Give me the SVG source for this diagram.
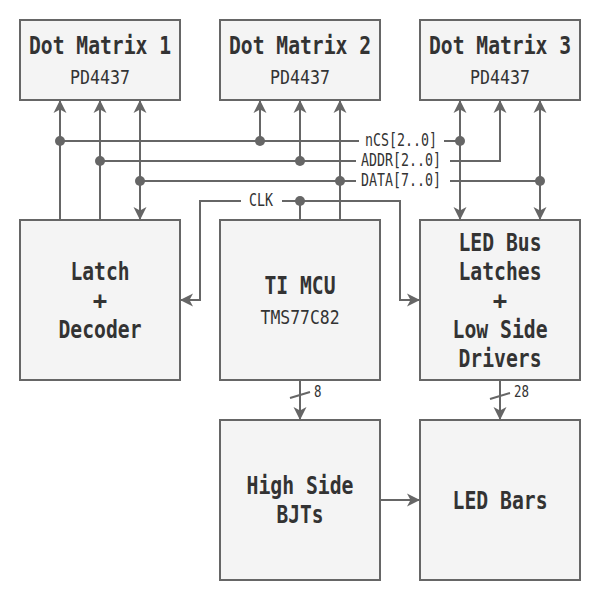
<svg xmlns="http://www.w3.org/2000/svg" width="602" height="604" viewBox="0 0 602 604">
<style>
.box{fill:#f4f4f4;stroke:#666;stroke-width:2}
.t{font-family:"DejaVu Sans Mono","Liberation Mono",monospace;font-weight:bold;font-size:24px;fill:#333;text-anchor:middle}
.s{font-family:"DejaVu Sans Mono","Liberation Mono",monospace;font-size:20px;fill:#333;text-anchor:middle}
.l{font-family:"DejaVu Sans Mono","Liberation Mono",monospace;font-size:18px;fill:#333;text-anchor:middle}
.w{font-family:"DejaVu Sans Mono","Liberation Mono",monospace;font-size:15px;fill:#333}
.c path{fill:none;stroke:#666;stroke-width:2}
.c circle{fill:#666}
.a{marker-end:url(#arr)}
.b{marker-start:url(#arr);marker-end:url(#arr)}
</style>
<defs>
<marker id="arr" viewBox="-14 -7 14 14" refX="0" refY="0" markerWidth="14" markerHeight="14" markerUnits="userSpaceOnUse" orient="auto-start-reverse">
<path d="M-13,-6.5 L0,0 L-13,6.5 L-9.5,0 Z" fill="#666"/>
</marker>
</defs>
<rect width="602" height="604" fill="#fff"/>

<g class="c" id="connectors">
<path class="a" d="M60,220 V100"/>
<path class="a" d="M100,220 V100"/>
<path class="b" d="M140,100 V220"/>
<path d="M60,141 H359 M444,141 H460"/>
<path class="a" d="M260,141 V100"/>
<path d="M100,161 H356"/>
<path class="a" d="M450,161 H500 V100"/>
<path class="a" d="M300,161 V100"/>
<path d="M140,181 H356 M450,181 H540"/>
<path class="a" d="M340,220 V100"/>
<path class="b" d="M460,100 V220"/>
<path class="b" d="M540,100 V220"/>
<path d="M300,220 V201"/>
<path class="a" d="M282,201 H400 V300 H420"/>
<path class="a" d="M241,201 H200 V300 H180"/>
<path class="a" d="M300,380 V420"/>
<path d="M290,398 L310,392"/>
<path class="a" d="M500,380 V420"/>
<path d="M490,399 L510,393"/>
<path class="a" d="M380,500 H420"/>
<circle cx="60" cy="141" r="5"/>
<circle cx="260" cy="141" r="5"/>
<circle cx="460" cy="141" r="5"/>
<circle cx="100" cy="161" r="5"/>
<circle cx="300" cy="161" r="5"/>
<circle cx="140" cy="181" r="5"/>
<circle cx="340" cy="181" r="5"/>
<circle cx="540" cy="181" r="5"/>
<circle cx="300" cy="201" r="5"/>
<text class="l" x="401" y="146" textLength="72" lengthAdjust="spacingAndGlyphs">nCS[2..0]</text>
<text class="l" x="401" y="166" textLength="80" lengthAdjust="spacingAndGlyphs">ADDR[2..0]</text>
<text class="l" x="401" y="186" textLength="80" lengthAdjust="spacingAndGlyphs">DATA[7..0]</text>
<text class="l" x="261" y="206" textLength="24" lengthAdjust="spacingAndGlyphs">CLK</text>
<text class="w" x="314" y="397" textLength="7.5" lengthAdjust="spacingAndGlyphs">8</text>
<text class="w" x="514" y="397" textLength="15" lengthAdjust="spacingAndGlyphs">28</text>
</g>

<g id="dm1">
<rect class="box" x="20" y="20" width="160" height="80"/>
<text class="t" x="100" y="54" textLength="142" lengthAdjust="spacingAndGlyphs">Dot Matrix 1</text>
<text class="s" x="100" y="84" textLength="60" lengthAdjust="spacingAndGlyphs">PD4437</text>
</g>
<g id="dm2">
<rect class="box" x="220" y="20" width="160" height="80"/>
<text class="t" x="300" y="54" textLength="142" lengthAdjust="spacingAndGlyphs">Dot Matrix 2</text>
<text class="s" x="300" y="84" textLength="60" lengthAdjust="spacingAndGlyphs">PD4437</text>
</g>
<g id="dm3">
<rect class="box" x="420" y="20" width="160" height="80"/>
<text class="t" x="500" y="54" textLength="142" lengthAdjust="spacingAndGlyphs">Dot Matrix 3</text>
<text class="s" x="500" y="84" textLength="60" lengthAdjust="spacingAndGlyphs">PD4437</text>
</g>
<g id="latch">
<rect class="box" x="20" y="220" width="160" height="160"/>
<text class="t" x="100" y="279.5" textLength="59" lengthAdjust="spacingAndGlyphs">Latch</text>
<text class="t" x="100" y="308.5">+</text>
<text class="t" x="100" y="337.5" textLength="83" lengthAdjust="spacingAndGlyphs">Decoder</text>
</g>
<g id="mcu">
<rect class="box" x="220" y="220" width="160" height="160"/>
<text class="t" x="300" y="294" textLength="71" lengthAdjust="spacingAndGlyphs">TI MCU</text>
<text class="s" x="300" y="324" textLength="79" lengthAdjust="spacingAndGlyphs">TMS77C82</text>
</g>
<g id="ledlatch">
<rect class="box" x="420" y="220" width="160" height="160"/>
<text class="t" x="500" y="250.5" textLength="83" lengthAdjust="spacingAndGlyphs">LED Bus</text>
<text class="t" x="500" y="279.5" textLength="83" lengthAdjust="spacingAndGlyphs">Latches</text>
<text class="t" x="500" y="308.5">+</text>
<text class="t" x="500" y="337.5" textLength="95" lengthAdjust="spacingAndGlyphs">Low Side</text>
<text class="t" x="500" y="366.5" textLength="83" lengthAdjust="spacingAndGlyphs">Drivers</text>
</g>
<g id="bjt">
<rect class="box" x="220" y="420" width="160" height="160"/>
<text class="t" x="300" y="494" textLength="107" lengthAdjust="spacingAndGlyphs">High Side</text>
<text class="t" x="300" y="523" textLength="47" lengthAdjust="spacingAndGlyphs">BJTs</text>
</g>
<g id="bars">
<rect class="box" x="420" y="420" width="160" height="160"/>
<text class="t" x="500" y="508.5" textLength="95" lengthAdjust="spacingAndGlyphs">LED Bars</text>
</g>
</svg>
